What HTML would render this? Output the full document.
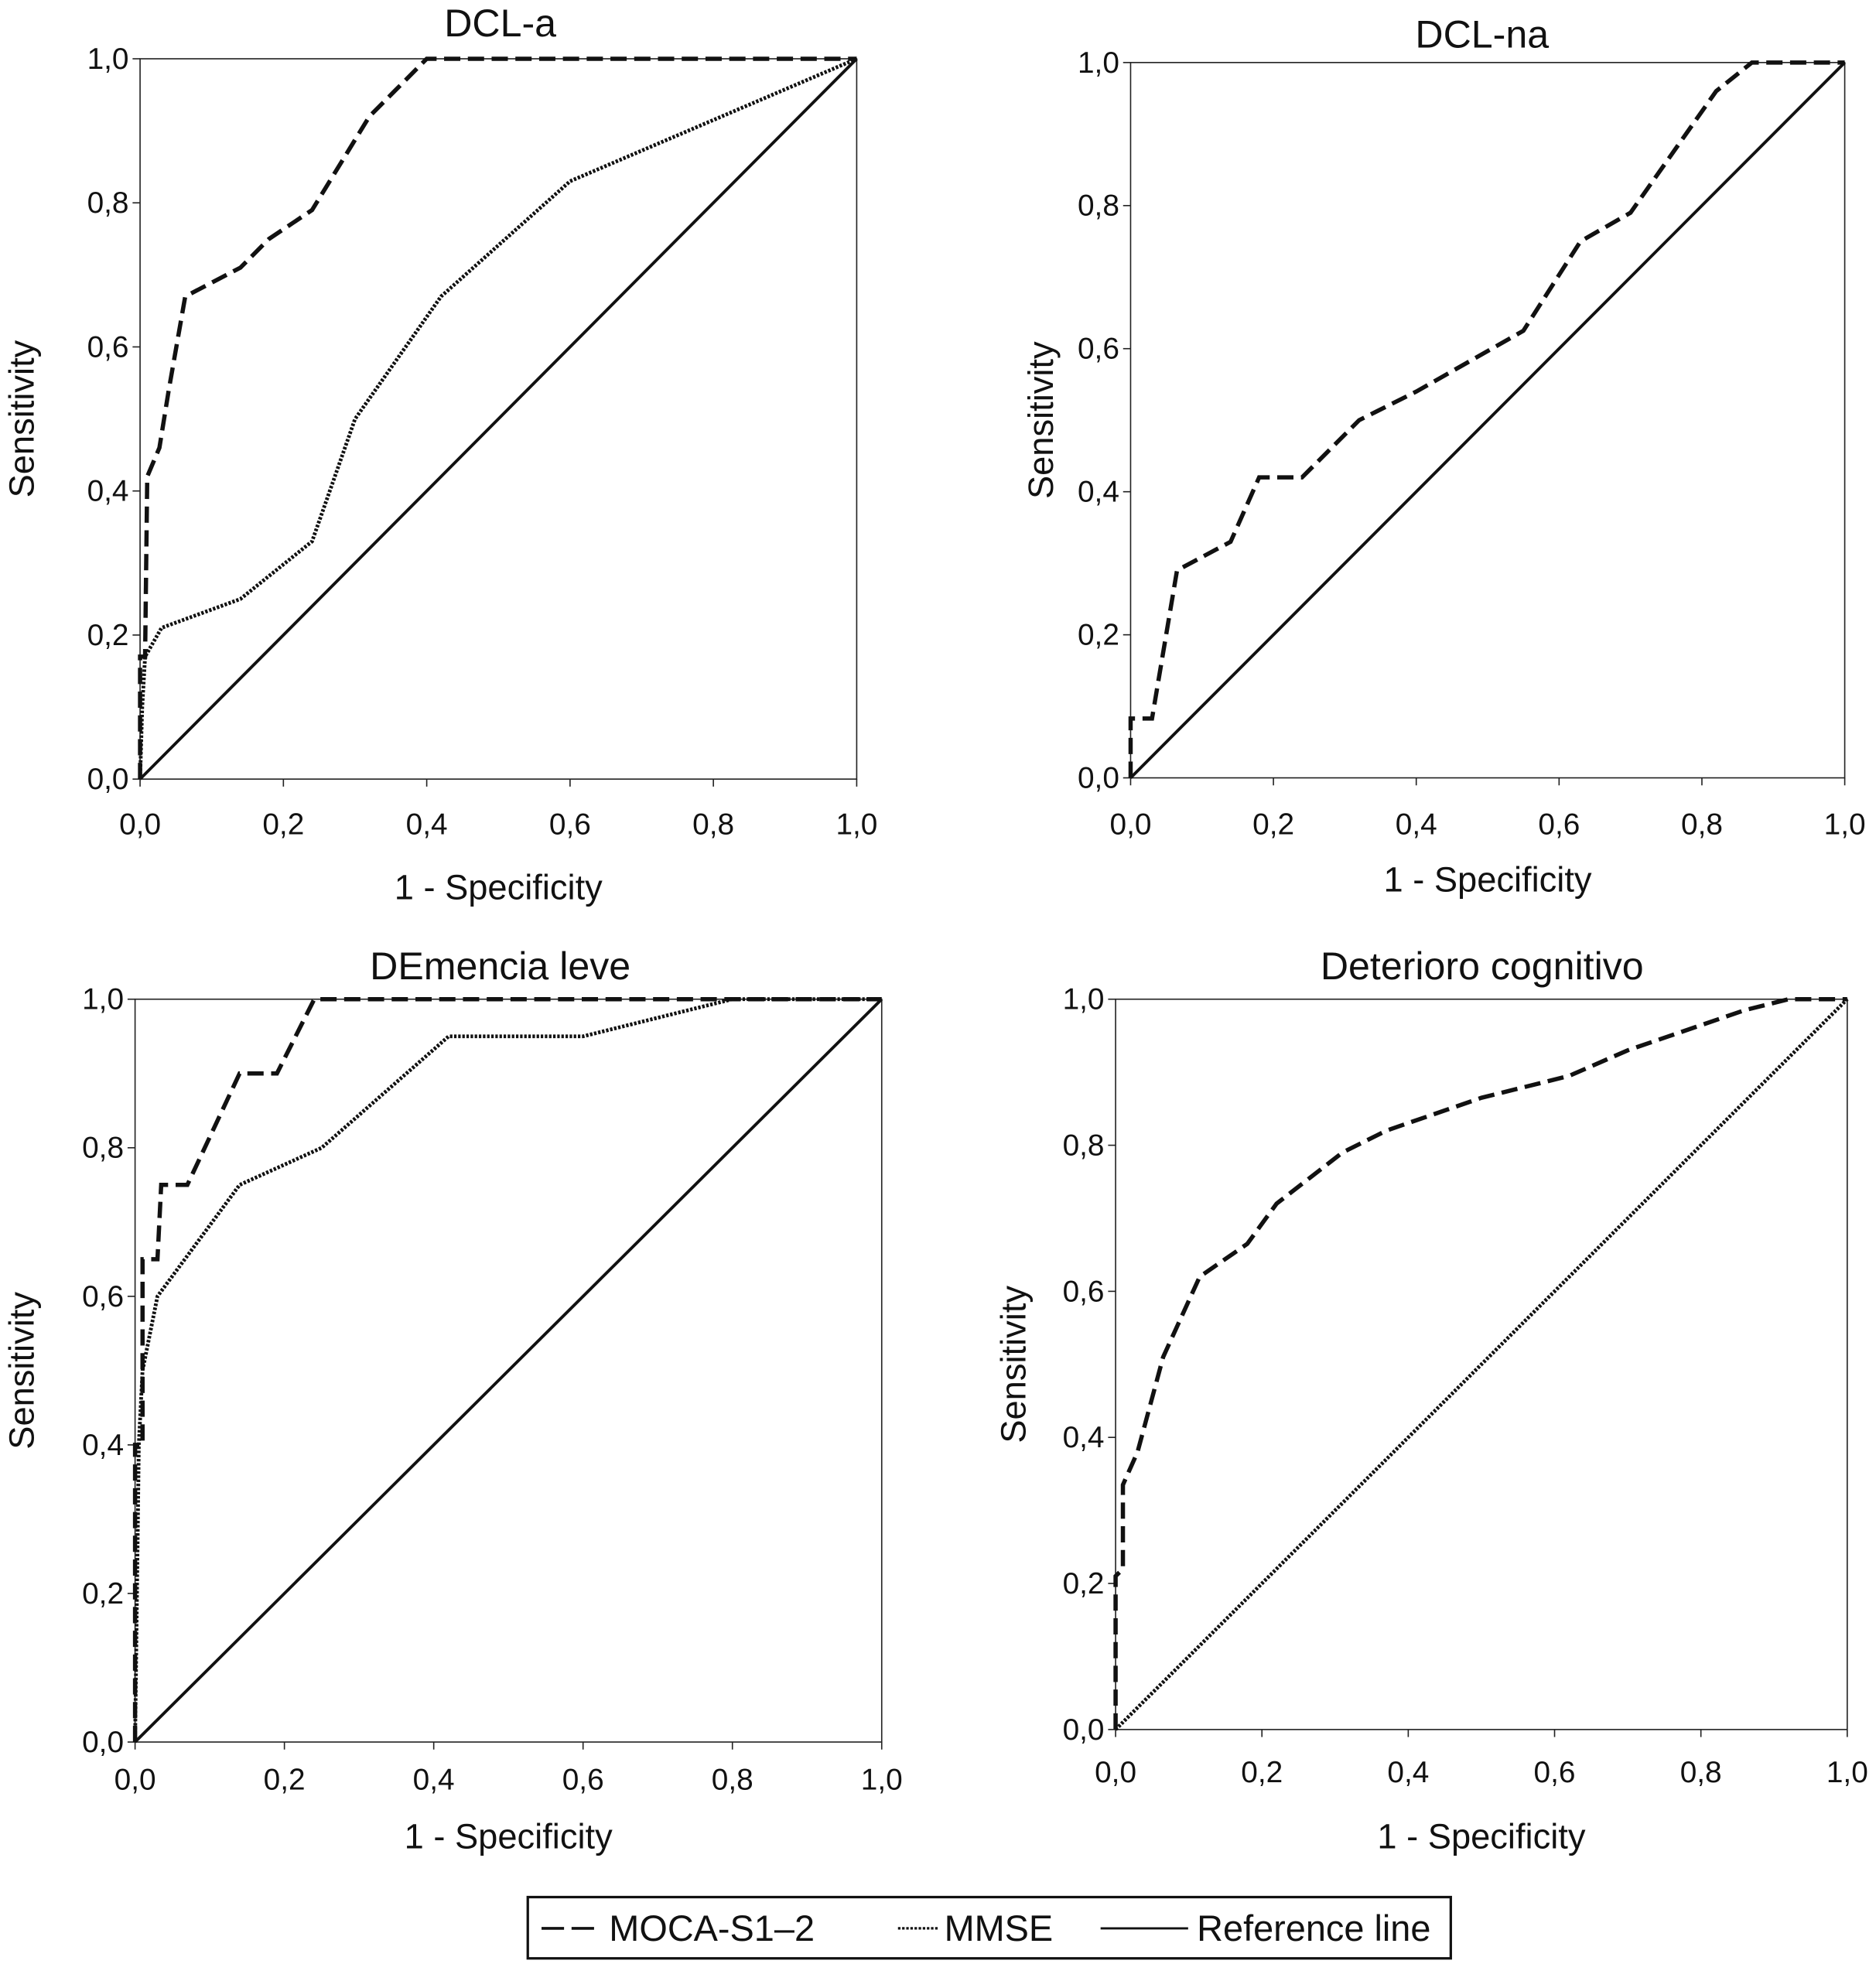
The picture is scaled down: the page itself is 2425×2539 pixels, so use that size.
<!DOCTYPE html>
<html><head><meta charset="utf-8"><style>
html,body{margin:0;padding:0;background:#fff}
svg{display:block}
text{font-family:"Liberation Sans",sans-serif;fill:#111}
</style></head><body>
<svg id="c" width="2425" height="2539" viewBox="0 0 1500 1570.5" preserveAspectRatio="none" xmlns="http://www.w3.org/2000/svg"></svg>
<script>
const tickValues = [0, 0.2, 0.4, 0.6, 0.8, 1.0];
const tickLabels = ["0,0","0,2","0,4","0,6","0,8","1,0"];
const panelTitles = ["DCL-a","DCL-na","DEmencia leve","Deterioro cognitivo"];
const mocaA_x = [0,0,0.007,0.01,0.027,0.04,0.063,0.14,0.18,0.24,0.32,0.40,1];
const mocaA_y = [0,0.17,0.17,0.42,0.46,0.54,0.67,0.71,0.75,0.79,0.92,1,1];
const mmseA_x = [0,0.003,0.007,0.03,0.14,0.24,0.3,0.42,0.6,1];
const mmseA_y = [0,0.1,0.17,0.21,0.25,0.33,0.5,0.67,0.83,1];
const mocaNA_x = [0,0,0.03,0.065,0.14,0.18,0.24,0.32,0.40,0.55,0.63,0.70,0.82,0.87,1];
const mocaNA_y = [0,0.083,0.083,0.29,0.33,0.42,0.42,0.5,0.54,0.625,0.75,0.79,0.96,1,1];
const mocaD_x = [0,0,0.01,0.01,0.03,0.035,0.07,0.14,0.19,0.24,1];
const mocaD_y = [0,0.4,0.4,0.65,0.65,0.75,0.75,0.9,0.9,1,1];
const mmseD_x = [0,0.005,0.01,0.03,0.14,0.25,0.42,0.6,0.8,1];
const mmseD_y = [0,0.4,0.5,0.6,0.75,0.8,0.95,0.95,1,1];
const mocaC_x = [0,0,0.01,0.01,0.03,0.065,0.115,0.18,0.22,0.31,0.37,0.5,0.62,0.7,0.86,0.92,1];
const mocaC_y = [0,0.21,0.22,0.335,0.38,0.51,0.62,0.665,0.72,0.79,0.82,0.865,0.895,0.93,0.985,1,1];
const refLine = [0,1];

const NS="http://www.w3.org/2000/svg";
const svg=document.getElementById('c');
function mk(tag,attrs,parent){const e=document.createElementNS(NS,tag);for(const k in attrs)e.setAttribute(k,attrs[k]);(parent||svg).appendChild(e);return e;}
const DASH="13,6", DOT="2,1.3";
const panels=[
 {x0:112,x1:685,y0:47,y1:623,tx:400,ty:29,xl:667,xt:719,yt:17,series:[[mocaA_x,mocaA_y,DASH,'moca-curve'],[mmseA_x,mmseA_y,DOT,'mmse-curve'],[refLine,refLine,null,'reference-line']]},
 {x0:904,x1:1475,y0:50,y1:622,tx:1185,ty:38,xl:667,xt:713,yt:832,series:[[mocaNA_x,mocaNA_y,DASH,'moca-curve'],[refLine,refLine,null,'reference-line']]},
 {x0:108,x1:705,y0:799,y1:1393,tx:400,ty:783,xl:1431,xt:1478,yt:17,series:[[mocaD_x,mocaD_y,DASH,'moca-curve'],[mmseD_x,mmseD_y,DOT,'mmse-curve'],[refLine,refLine,null,'reference-line']]},
 {x0:892,x1:1477,y0:799,y1:1383,tx:1185,ty:783,xl:1425,xt:1478,yt:810,series:[[mocaC_x,mocaC_y,DASH,'moca-curve'],[refLine,refLine,DOT,'reference-line']]}
];
panels.forEach((p,i)=>{
 const g=mk('g',{});
 
 
 const sx=v=>p.x0+v*(p.x1-p.x0), sy=v=>p.y1-v*(p.y1-p.y0);
 const fr=mk('rect',{x:p.x0,y:p.y0,width:p.x1-p.x0,height:p.y1-p.y0,fill:'none',stroke:'#222','stroke-width':1},g);
 
 
 const t=mk('text',{x:p.tx,y:p.ty,'text-anchor':'middle','font-size':31},g);t.textContent=panelTitles[i];
 
 
 tickValues.forEach((v,j)=>{
  mk('line',{x1:p.x0-6,x2:p.x0,y1:sy(v),y2:sy(v),stroke:'#222'},g);
  mk('line',{x1:sx(v),x2:sx(v),y1:p.y1,y2:p.y1+6,stroke:'#222'},g);
  const yl=mk('text',{x:p.x0-9,y:sy(v)+8,'text-anchor':'end','font-size':24},g);yl.textContent=tickLabels[j];
  
  
  const xl=mk('text',{x:sx(v),y:p.xl,'text-anchor':'middle','font-size':24},g);xl.textContent=tickLabels[j];
  
  
 });
 const xt=mk('text',{x:(p.x0+p.x1)/2,y:p.xt,'text-anchor':'middle','font-size':28},g);xt.textContent='1 - Specificity';
 
 
 const cy=(p.y0+p.y1)/2;
 const yt=mk('text',{x:p.yt,y:cy,'text-anchor':'middle','font-size':28,transform:`rotate(-90 ${p.yt} ${cy})`,dy:10},g);yt.textContent='Sensitivity';
 
 
 p.series.forEach(s=>{
  const pts=s[0].map((x,k)=>sx(x)+','+sy(s[1][k])).join(' ');
  const a={points:pts,fill:'none',stroke:'#111','stroke-width':s[2]===DASH?3.4:(s[2]?3:2.4)};
  if(s[2])a['stroke-dasharray']=s[2];
  const pl=mk('polyline',a,g);
  
  
 });
});
const lg=mk('g',{});


mk('rect',{x:422,y:1517,width:738,height:49,fill:'#fff',stroke:'#111','stroke-width':2},lg);
const items=[[433,480,DASH,487,'MOCA-S1–2'],[718,750,DOT,755,'MMSE'],[880,950,null,957,'Reference line']];
items.forEach(it=>{
 const e=mk('g',{},lg);
 
 
 const a={x1:it[0],x2:it[1],y1:1542,y2:1542,stroke:'#111','stroke-width':it[2]===DASH?2.2:(it[2]?2:1.8)};
 if(it[2])a['stroke-dasharray']=it[2]===DASH?'18,6':'2,1.3';
 mk('line',a,e);
 const tx=mk('text',{x:it[3],y:1552,'font-size':29},e);tx.textContent=it[4];
});
</script>
</body></html>
